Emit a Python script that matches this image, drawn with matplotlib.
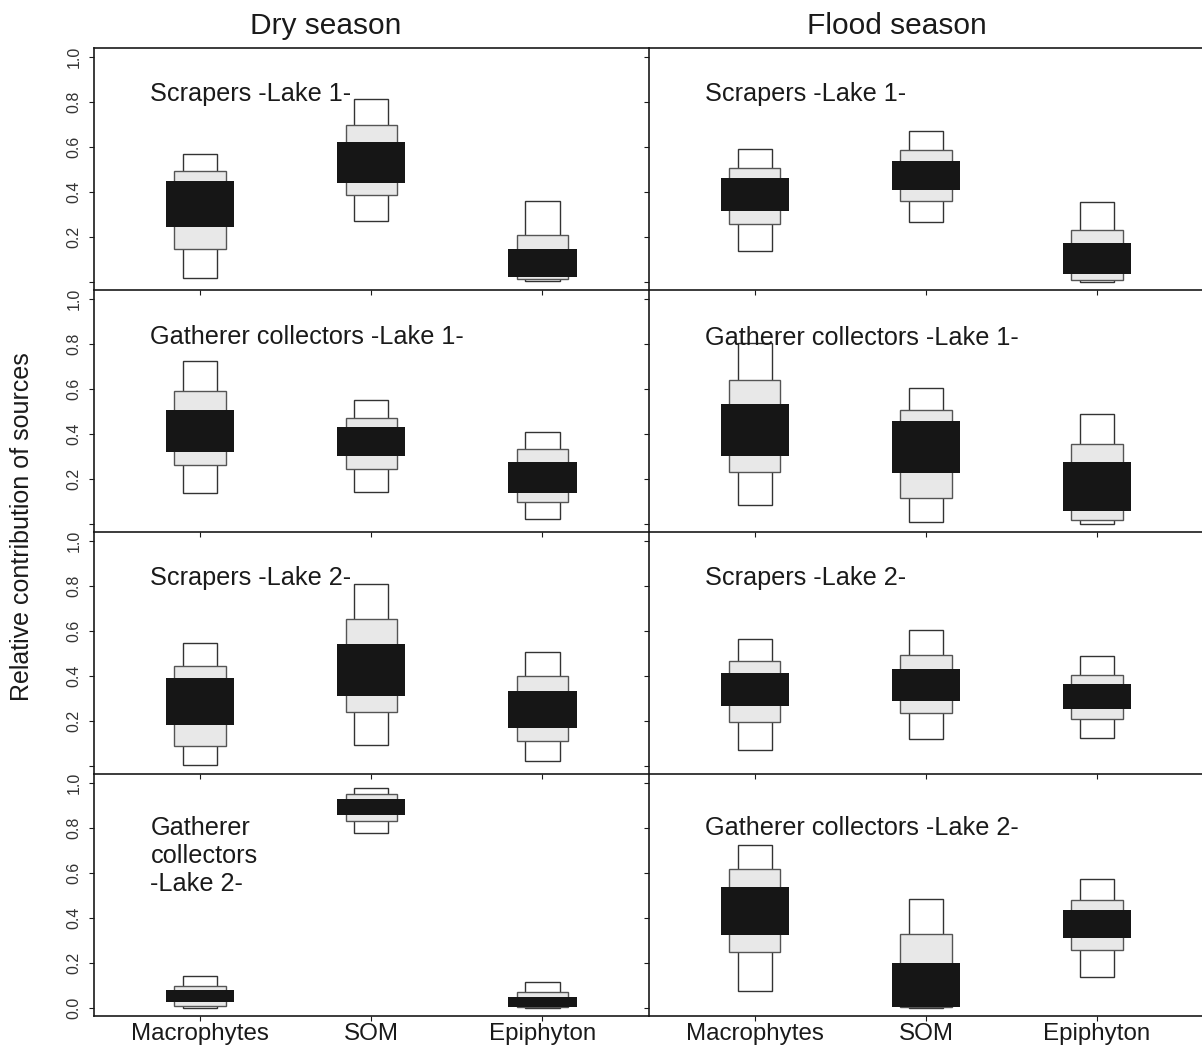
import numpy as np
import matplotlib
matplotlib.use("Agg")
import matplotlib.pyplot as plt

plt.rcParams['font.family'] = ['Liberation Sans', 'DejaVu Sans']

# sources on the x axis
sources = ['Macrophytes', 'SOM', 'Epiphyton']
seasons = ['Dry season', 'Flood season']

# credible intervals per source: lo95, lo75, lo50, hi50, hi75, hi95
dry_scr_l1 = [[0.016, 0.146, 0.245, 0.447, 0.493, 0.567],
              [0.270, 0.385, 0.437, 0.622, 0.698, 0.815],
              [0.003, 0.012, 0.022, 0.146, 0.208, 0.359]]
flood_scr_l1 = [[0.138, 0.258, 0.316, 0.461, 0.508, 0.590],
                [0.266, 0.359, 0.410, 0.538, 0.585, 0.671],
                [0.000, 0.009, 0.036, 0.172, 0.232, 0.356]]
dry_gat_l1 = [[0.137, 0.260, 0.321, 0.506, 0.592, 0.726],
              [0.140, 0.245, 0.303, 0.431, 0.469, 0.550],
              [0.021, 0.095, 0.138, 0.275, 0.331, 0.410]]
flood_gat_l1 = [[0.082, 0.230, 0.303, 0.532, 0.641, 0.804],
                [0.006, 0.113, 0.227, 0.457, 0.506, 0.606],
                [0.000, 0.018, 0.058, 0.275, 0.355, 0.490]]
dry_scr_l2 = [[0.001, 0.089, 0.180, 0.391, 0.442, 0.547],
              [0.092, 0.241, 0.309, 0.543, 0.655, 0.808],
              [0.021, 0.111, 0.166, 0.333, 0.398, 0.506]]
flood_scr_l2 = [[0.070, 0.195, 0.264, 0.413, 0.466, 0.564],
                [0.119, 0.235, 0.286, 0.432, 0.493, 0.606],
                [0.123, 0.208, 0.251, 0.365, 0.402, 0.490]]
dry_gat_l2 = [[0.000, 0.006, 0.024, 0.079, 0.097, 0.139],
              [0.777, 0.829, 0.857, 0.930, 0.953, 0.979],
              [0.000, 0.003, 0.004, 0.049, 0.071, 0.114]]
flood_gat_l2 = [[0.073, 0.247, 0.322, 0.535, 0.616, 0.722],
                [0.000, 0.001, 0.005, 0.201, 0.326, 0.485],
                [0.137, 0.256, 0.309, 0.435, 0.481, 0.573]]

panel_data = [[dry_scr_l1, flood_scr_l1],
              [dry_gat_l1, flood_gat_l1],
              [dry_scr_l2, flood_scr_l2],
              [dry_gat_l2, flood_gat_l2]]
panel_titles = [['Scrapers -Lake 1-', 'Scrapers -Lake 1-'],
                ['Gatherer collectors -Lake 1-', 'Gatherer collectors -Lake 1-'],
                ['Scrapers -Lake 2-', 'Scrapers -Lake 2-'],
                ['Gatherer\ncollectors\n-Lake 2-', 'Gatherer collectors -Lake 2-']]
# baseline of (last line of) panel text, data units
title_y = [[0.805, 0.805], [0.80, 0.796], [0.806, 0.806], [0.518, 0.77]]

W, H = 1202, 1047
fig = plt.figure(figsize=(W / 100, H / 100), dpi=100)
fig.patch.set_facecolor('white')

dark = '#1a1a1a'
x = np.arange(1, 4)
col_left = [94, 648.7]
ax_w = 554.5
row_top = 48
row_h = 242

for r in range(4):
    for c in range(2):
        x0 = col_left[c] / W
        y0 = 1 - (row_top + row_h * (r + 1)) / H
        ax = fig.add_axes([x0, y0, ax_w / W, row_h / H])
        ax.set_xlim(0.38, 3.62)
        ax.set_ylim(-0.037, 1.04)
        d = np.array(panel_data[r][c])

        # 95% interval (white), 75% (light grey), 50% (black)
        ax.bar(x, d[:, 5] - d[:, 0], bottom=d[:, 0], width=0.2,
               facecolor='white', edgecolor='#333333', linewidth=1.0, zorder=2)
        ax.bar(x, d[:, 4] - d[:, 1], bottom=d[:, 1], width=0.3,
               facecolor='#e8e8e8', edgecolor='#555555', linewidth=1.0, zorder=3)
        ax.bar(x, d[:, 3] - d[:, 2], bottom=d[:, 2], width=0.4,
               facecolor='#161616', edgecolor='none', linewidth=0, zorder=4)

        ax.text(0.71, title_y[r][c], panel_titles[r][c], fontsize=18.2,
                color=dark, ha='left', va='baseline', linespacing=1.22)

        ax.spines['right'].set_visible(False)
        if r > 0:
            ax.spines['top'].set_visible(False)
        for s in ['left', 'bottom', 'top']:
            ax.spines[s].set_linewidth(1.2)
            ax.spines[s].set_color(dark)
        ax.patch.set_alpha(0)

        ax.set_xticks(x)
        if r == 3:
            ax.set_xticklabels(sources, fontsize=17.4, color=dark)
        else:
            ax.set_xticklabels([])
        yt = [0.0, 0.2, 0.4, 0.6, 0.8, 1.0]
        ax.set_yticks(yt)
        if c == 0:
            labs = ['%.1f' % v for v in yt]
            if r < 3:
                labs[0] = ''
            ax.set_yticklabels(labs, fontsize=11.5, color='#333333',
                               rotation=90, va='center')
        else:
            ax.set_yticklabels([])
        ax.tick_params(axis='both', direction='out', length=3.5, width=0.8,
                       color=dark)
        ax.tick_params(axis='y', pad=5.5)
        ax.tick_params(axis='x', pad=1.5)

fig.text(326 / W, 1 - 33.5 / H, seasons[0], fontsize=21.5, color=dark,
         ha='center', va='baseline')
fig.text(897 / W, 1 - 33.5 / H, seasons[1], fontsize=21.5, color=dark,
         ha='center', va='baseline')
fig.text(22 / W, 1 - 527 / H, 'Relative contribution of sources', fontsize=18,
         color=dark, rotation=90, ha='center', va='center')

fig.savefig('out.png', dpi=100, facecolor='white')
